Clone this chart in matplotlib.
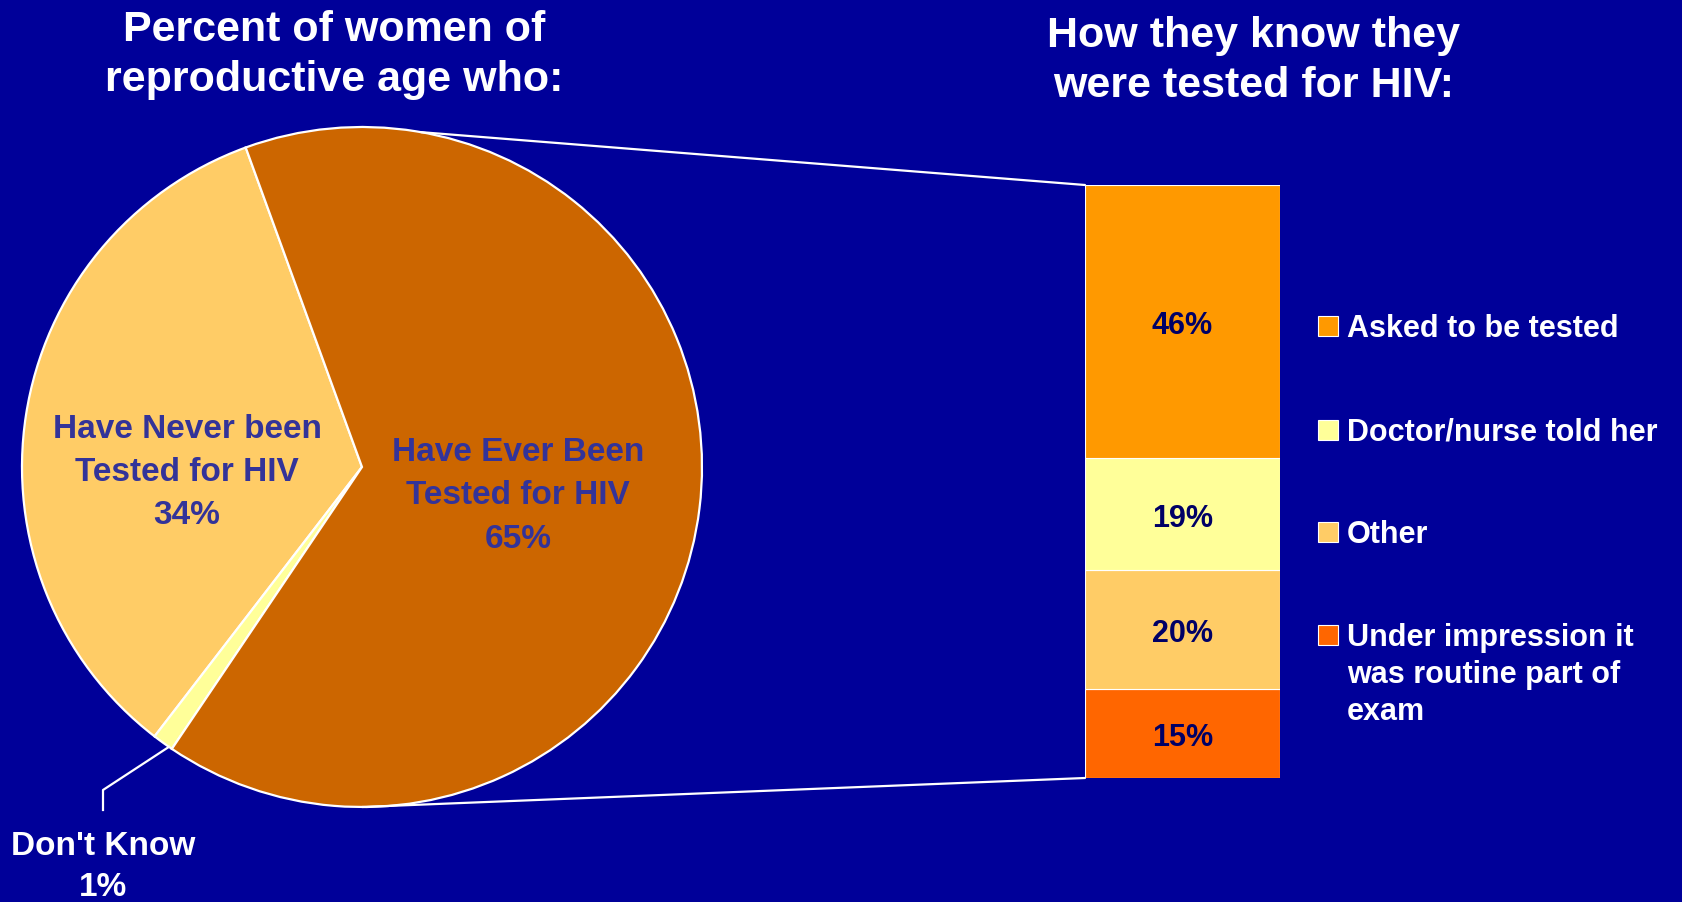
import numpy as np
import matplotlib
matplotlib.use("Agg")
import matplotlib.pyplot as plt
from matplotlib.patches import ConnectionPatch, Rectangle

plt.rcParams['font.family'] = ['Liberation Sans', 'DejaVu Sans']
plt.rcParams['font.weight'] = 'bold'

# pie: all women of reproductive age
pie_labels = ["Have Never been\nTested for HIV", "Don't Know", "Have Ever Been\nTested for HIV"]
pie_values = [34, 1, 65]
pie_colors = ["#FFCC66", "#FFFF99", "#CC6600"]

# bar: how the tested women know they were tested (bottom to top)
bar_labels = ["Under impression it\nwas routine part of\nexam", "Other", "Doctor/nurse told her", "Asked to be tested"]
bar_values = [15, 20, 19, 46]
bar_colors = ["#FF6600", "#FFCC66", "#FFFF99", "#FF9900"]

bg = "#000099"
W, H = 1683, 903
fig = plt.figure(figsize=(W / 100, H / 100), dpi=100)
fig.patch.set_facecolor(bg)


def box(left, top, width, height):
    return [left / W, 1 - (top + height) / H, width / W, height / H]


# pie axes
cx, cy, r = 362, 468, 340
ax = fig.add_axes(box(cx - r, cy - r, 2 * r, 2 * r))
ax.set_facecolor(bg)
wedges, _ = ax.pie(pie_values, colors=pie_colors, startangle=110, counterclock=True,
                   radius=1, wedgeprops=dict(edgecolor="white", linewidth=1.6))
ax.set_xlim(-1, 1)
ax.set_ylim(-1, 1)
ax.set_aspect("equal")
ax.axis("off")

lab_col = "#333399"
ax.text((187 - cx) / r, (cy - 473) / r, f"{pie_labels[0]}\n{pie_values[0]}%", ha="center", va="center",
        fontsize=24, color=lab_col, linespacing=1.5)
ax.text((518 - cx) / r, (cy - 496) / r, f"{pie_labels[2]}\n{pie_values[2]}%", ha="center", va="center",
        fontsize=24, color=lab_col, linespacing=1.5)

# leader line for the small slice
w = wedges[1]
mid = np.deg2rad((w.theta1 + w.theta2) / 2 + 1.2)
kx = (103 - cx) / r
ax.plot([np.cos(mid), kx, kx], [np.sin(mid), (cy - 791) / r, (cy - 811) / r],
        color="white", lw=1.6, clip_on=False)
ax.text(kx, (cy - 831) / r, f"{pie_labels[1]}\n{pie_values[1]}%", ha="center", va="top",
        fontsize=24, color="white", linespacing=1.4)

# stacked bar axes
bx = fig.add_axes(box(1085, 186, 195, 593))
bx.set_facecolor(bg)
bottom = 0
for val, col in zip(bar_values, bar_colors):
    bx.bar(0, val, bottom=bottom, width=1, color=col, edgecolor="white", linewidth=0.8)
    bx.text(0, bottom + val / 2, f"{val}%", ha="center", va="center_baseline", fontsize=22, color="#000066")
    bottom += val
bx.set_xlim(-0.5, 0.5)
bx.set_ylim(0, 100)
bx.axis("off")

# lines joining the pie to the bar
for ang, yb in [(80, 100), (270, 0)]:
    t = np.deg2rad(ang)
    con = ConnectionPatch(xyA=(np.cos(t), np.sin(t)), coordsA=ax.transData,
                          xyB=(-0.5, yb), coordsB=bx.transData, color="white", lw=1.6)
    fig.add_artist(con)

# legend, top item first
leg_y = [326, 430, 532, 635]
for yy, lab, col in zip(leg_y, bar_labels[::-1], bar_colors[::-1]):
    fig.add_artist(Rectangle((1318 / W, 1 - (yy + 11) / H), 20 / W, 20 / H, transform=fig.transFigure,
                             facecolor=col, edgecolor="white", linewidth=0.8))
    fig.text(1347 / W, 1 - (yy - 12) / H, lab, ha="left", va="top", fontsize=22, color="white",
             linespacing=1.3, transform=fig.transFigure)

# titles
fig.text(334 / W, 1 - 55 / H, "Percent of women of\nreproductive age who:", ha="center", va="center",
         fontsize=31, color="white", linespacing=1.3)
fig.text(1254 / W, 1 - 61 / H, "How they know they\nwere tested for HIV:", ha="center", va="center",
         fontsize=31, color="white", linespacing=1.3)

fig.savefig("out.png", dpi=100, facecolor=bg)
